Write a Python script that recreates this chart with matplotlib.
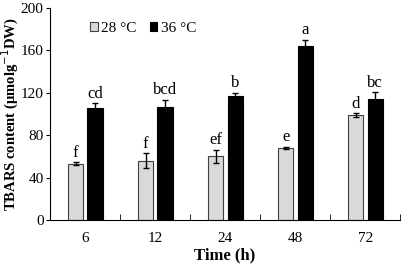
import matplotlib.pyplot as plt
import numpy as np

times = ["6", "12", "24", "48", "72"]
t28 = [53, 56, 60, 68, 99]
t28_err = [1.5, 7, 6.5, 1, 1.5]
t36 = [106, 107, 117, 164, 114]
t36_err = [4, 6.5, 3, 6, 6.5]
let28 = ["f", "f", "ef", "e", "d"]
let36 = ["cd", "bcd", "b", "a", "bc"]

plt.rcParams['font.family'] = ['Liberation Serif', 'DejaVu Serif']

fig = plt.figure(figsize=(4.03, 2.67), dpi=100)
ax = fig.add_axes([0.124, 0.176, 0.869, 0.794])

x = np.arange(len(times))
w = 0.22
ax.bar(x - 0.135, t28, w, yerr=t28_err, color='#d9d9d9', edgecolor='#404040', linewidth=0.8,
       error_kw=dict(elinewidth=1, capsize=2.5, capthick=1), label="28 °C")
ax.bar(x + 0.145, t36, w, yerr=t36_err, color='black', edgecolor='black', linewidth=0.8,
       error_kw=dict(elinewidth=1, capsize=2.5, capthick=1, ecolor='black'), label="36 °C")

for i in range(len(times)):
    ax.text(x[i] - 0.135, t28[i] + t28_err[i] + 1.5, let28[i], ha='center', va='bottom', fontsize=12)
    ax.text(x[i] + 0.145, t36[i] + t36_err[i] + 1.5, let36[i], ha='center', va='bottom', fontsize=12)

ax.set_xlim(-0.5, 4.5)
ax.set_ylim(0, 200)
ax.set_yticks([0, 40, 80, 120, 160, 200])
ax.set_xticks(x)
ax.set_xticklabels(times)
ax.set_xticks(np.arange(-0.5, 5, 1), minor=True)
ax.tick_params(axis='x', which='major', length=0, pad=8.5, labelsize=11)
ax.tick_params(axis='x', which='minor', direction='in', length=4)
ax.tick_params(axis='y', direction='out', length=3, labelsize=11, pad=1.5)
ax.spines['top'].set_visible(False)
ax.spines['right'].set_visible(False)

ax.set_xlabel("Time (h)", fontsize=12, fontweight='bold', labelpad=2)
ax.set_ylabel("TBARS content (μmolg$^{-1}$DW)", fontsize=10.5, fontweight='bold')
ax.yaxis.set_label_coords(-0.083, 0.5)

ax.legend(loc='upper left', bbox_to_anchor=(0.075, 1.0), ncol=2, frameon=False, fontsize=11,
          handlelength=0.5, handleheight=0.5, handletextpad=0.2, columnspacing=0.9)

plt.savefig("out.png", dpi=100)
